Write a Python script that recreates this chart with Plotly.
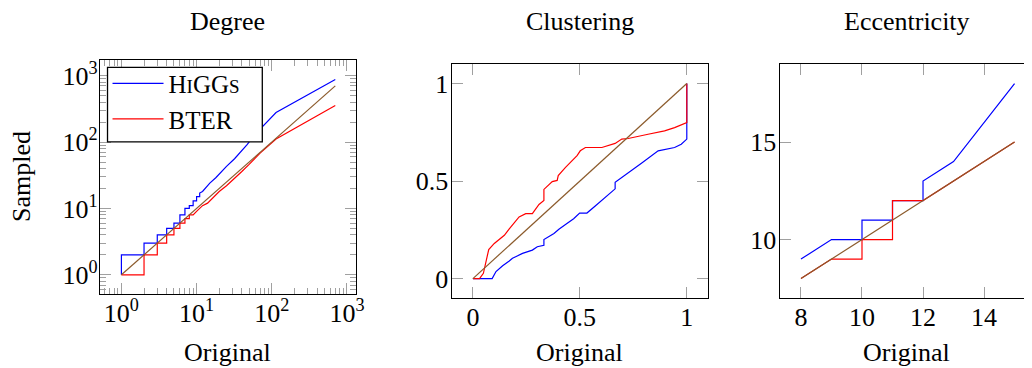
import plotly.graph_objects as go

# ---------------- data ----------------
# Degree (log-log QQ)
deg_higgs_x = [1, 1, 2, 2, 3, 3, 4, 4, 5, 5, 6, 6, 7, 7, 8, 8, 9, 9, 10, 10, 11, 11, 12, 13, 15, 18, 21, 25, 32, 40, 47, 60, 86, 114, 700]
deg_higgs_y = [1, 2, 2, 3, 3, 4, 4, 5, 5, 6, 6, 8, 8, 10, 10, 11, 11, 13, 13, 15, 15, 17, 18, 20, 24, 29, 35, 43, 56, 74, 91, 130, 200, 278, 877]
deg_bter_x = [1, 2, 2, 3, 3, 4, 4, 5, 5, 6, 6, 7, 7, 8, 8, 9, 10, 12, 14, 17, 20, 25, 30, 40, 50, 70, 114, 700]
deg_bter_y = [1, 1, 2, 2, 3, 3, 4, 4, 5, 5, 6, 6, 7, 7, 8, 8, 9, 11, 12, 15, 18, 22, 27, 36, 46, 68, 111, 354]
deg_diag = [1, 700]

# Clustering QQ
clu_higgs_x = [0, 0.09, 0.108, 0.139, 0.17, 0.185, 0.2, 0.232, 0.278, 0.301, 0.332, 0.332, 0.379, 0.402, 0.433, 0.471, 0.499, 0.533, 0.572, 0.603, 0.634, 0.665, 0.665, 0.726, 0.788, 0.866, 0.943, 0.974, 1.0, 1.0]
clu_higgs_y = [0, 0, 0.036, 0.066, 0.09, 0.104, 0.112, 0.129, 0.146, 0.163, 0.171, 0.2, 0.231, 0.253, 0.277, 0.307, 0.336, 0.336, 0.372, 0.4, 0.43, 0.46, 0.494, 0.54, 0.591, 0.655, 0.672, 0.689, 0.715, 1.0]
clu_bter_x = [0, 0.031, 0.049, 0.074, 0.1, 0.124, 0.147, 0.17, 0.198, 0.216, 0.247, 0.278, 0.309, 0.332, 0.332, 0.371, 0.394, 0.399, 0.433, 0.464, 0.487, 0.502, 0.526, 0.603, 0.665, 0.696, 0.726, 0.819, 0.896, 0.943, 1.0, 1.0]
clu_bter_y = [0, 0, 0.027, 0.149, 0.18, 0.2, 0.222, 0.255, 0.295, 0.316, 0.333, 0.333, 0.38, 0.4, 0.457, 0.497, 0.503, 0.528, 0.57, 0.604, 0.63, 0.655, 0.672, 0.672, 0.693, 0.715, 0.718, 0.74, 0.757, 0.774, 0.8, 1.0]
clu_diag = [0, 1]

# Eccentricity QQ
ecc_higgs_x = [8, 9, 10, 10, 11, 11, 12, 12, 13, 14, 15]
ecc_higgs_y = [9, 10, 10, 11, 11, 12, 12, 13, 14, 16, 18]
ecc_bter_x = [8, 9, 10, 10, 11, 11, 12, 15]
ecc_bter_y = [8, 9, 9, 10, 10, 12, 12, 15]
ecc_diag = [8, 15]

# tick labels
deg_ticks = [1, 10, 100, 1000]
deg_ticktext = ["10<sup>0</sup>", "10<sup>1</sup>", "10<sup>2</sup>", "10<sup>3</sup>"]
deg_minor = [m * 10 ** e for e in range(-1, 4) for m in range(2, 10)]
clu_ticks = [0, 0.5, 1]
clu_ticktext = ["0", "0.5", "1"]
ecc_xticks = [8, 10, 12, 14]
ecc_yticks = [10, 15]

titles = ["Degree", "Clustering", "Eccentricity"]
legend_names = ["H<span style='font-size:19px'>I</span>GG<span style='font-size:19px'>S</span>", "BTER"]

# ---------------- style ----------------
BLUE = "#0000ff"
RED = "#ff0000"
BROWN = "#8b5a2b"
FONT = "Liberation Serif, Times New Roman, serif"
FS = 26
WIN_W, WIN_H = 1032, 368
OFF = 8                      # page body margin
W, H = WIN_W - OFF, WIN_H - OFF
TICKC = "#a0a0a0"

fig = go.Figure()

def add_panel(n, hx, hy, bx, by, dx, dy, legend=False):
    xa = "x" if n == 1 else f"x{n}"
    ya = "y" if n == 1 else f"y{n}"
    fig.add_trace(go.Scatter(x=hx, y=hy, mode="lines", line=dict(color=BLUE, width=1.2),
                             name=legend_names[0], showlegend=legend, xaxis=xa, yaxis=ya))
    fig.add_trace(go.Scatter(x=bx, y=by, mode="lines", line=dict(color=RED, width=1.2),
                             name=legend_names[1], showlegend=legend, xaxis=xa, yaxis=ya))
    fig.add_trace(go.Scatter(x=dx, y=dy, mode="lines", line=dict(color=BROWN, width=1.2),
                             name="diag", showlegend=False, xaxis=xa, yaxis=ya))

add_panel(1, deg_higgs_x, deg_higgs_y, deg_bter_x, deg_bter_y, deg_diag, deg_diag, legend=True)
add_panel(2, clu_higgs_x, clu_higgs_y, clu_bter_x, clu_bter_y, clu_diag, clu_diag)
add_panel(3, ecc_higgs_x, ecc_higgs_y, ecc_bter_x, ecc_bter_y, ecc_diag, ecc_diag)

common = dict(showgrid=False, zeroline=False, showline=True, linecolor="black", linewidth=1.3,
              ticks="inside", ticklen=11, tickwidth=1, tickcolor=TICKC,
              tickfont=dict(family=FONT, size=FS, color="black"))

def fx(p):
    return (p - OFF) / W

def fy(p):
    return (WIN_H - p) / H

minor_log = dict(ticks="inside", ticklen=6, tickwidth=1, tickcolor=TICKC, tickmode="array",
                 tickvals=deg_minor, showgrid=False)

XSO = -4   # x tick label standoff
YSO = -3   # y tick label standoff

fig.update_layout(
    width=W, height=H, margin=dict(l=0, r=0, t=0, b=0),
    paper_bgcolor="white", plot_bgcolor="white",
    font=dict(family=FONT, size=FS, color="black"),
    xaxis=dict(**common, type="log", domain=[fx(100.7), fx(358.7)], range=[-0.285, 3.12],
               tickmode="array", tickvals=deg_ticks, ticktext=deg_ticktext, mirror="ticks",
               minor=minor_log, anchor="y", ticklabelstandoff=XSO),
    yaxis=dict(**common, type="log", domain=[fy(293.3), fy(58.3)], range=[-0.285, 3.235],
               tickmode="array", tickvals=deg_ticks, ticktext=deg_ticktext, mirror="ticks",
               minor=minor_log, anchor="x", ticklabelstandoff=YSO - 1),
    xaxis2=dict(**common, domain=[fx(455), fx(713.7)], range=[-0.1, 1.1],
                tickmode="array", tickvals=clu_ticks, ticktext=clu_ticktext, mirror="ticks", anchor="y2",
                ticklabelstandoff=XSO),
    yaxis2=dict(**common, domain=[fy(297.7), fy(62.3)], range=[-0.1, 1.1],
                tickmode="array", tickvals=clu_ticks, ticktext=clu_ticktext, mirror="ticks", anchor="x2",
                ticklabelstandoff=YSO),
    xaxis3=dict(**common, domain=[fx(785.7), 1.0], range=[7.3, 15.31],
                tickmode="array", tickvals=ecc_xticks, mirror="ticks", anchor="y3",
                ticklabelstandoff=XSO),
    yaxis3=dict(**common, domain=[fy(297.7), fy(62.3)], range=[7, 19],
                tickmode="array", tickvals=ecc_yticks, mirror=False, anchor="x3",
                ticklabelstandoff=YSO),
    legend=dict(x=fx(108.3), y=fy(59), xanchor="left", yanchor="top",
                bgcolor="rgba(0,0,0,0)", borderwidth=0,
                font=dict(family=FONT, size=25, color="black"), itemwidth=51,
                tracegroupgap=0),
    showlegend=True,
)

# legend frame
fig.add_shape(type="rect", xref="paper", yref="paper",
              x0=fx(108.3), x1=fx(264.3), y0=fy(140.7), y1=fy(65.7),
              line=dict(color="black", width=1.3), fillcolor="white", layer="above")

# panel titles and axis titles
title_x = [229.7, 584.3, 914.0]
for t, cx in zip(titles, title_x):
    fig.add_annotation(text=t, x=fx(cx), y=fy(20), xref="paper", yref="paper",
                       showarrow=False, xanchor="center", yanchor="middle",
                       font=dict(family=FONT, size=FS, color="black"))
    fig.add_annotation(text="Original", x=fx(cx), y=fy(352), xref="paper", yref="paper",
                       showarrow=False, xanchor="center", yanchor="middle",
                       font=dict(family=FONT, size=FS, color="black"))
fig.add_annotation(text="Sampled", x=fx(21), y=fy(175), xref="paper", yref="paper",
                   showarrow=False, xanchor="center", yanchor="middle", textangle=-90,
                   font=dict(family=FONT, size=FS, color="black"))

fig.write_html("out.html")
